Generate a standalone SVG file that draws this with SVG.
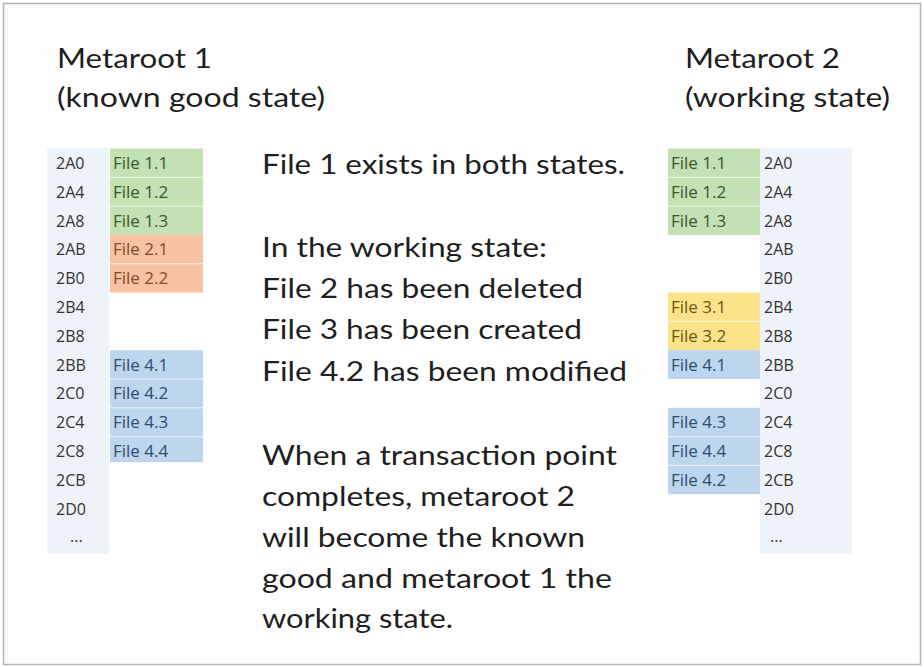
<svg xmlns="http://www.w3.org/2000/svg" width="924" height="667" viewBox="0 0 924 667">
<style>
.big{font-family:Lato,"Open Sans","Liberation Sans",sans-serif;font-size:27px;fill:#1e1e1e;}
.lbl{font-family:"Open Sans","Liberation Sans",sans-serif;font-size:16px;fill:#333;}
.cell{font-family:"Open Sans","Liberation Sans",sans-serif;font-size:17px;}
.g{fill:#c3e1b3;} .gt{fill:#3a5829;}
.o{fill:#f6c2a2;} .ot{fill:#86492a;}
.b{fill:#bdd6ee;} .bt{fill:#2f4c6c;}
.y{fill:#fce38a;} .yt{fill:#6a5610;}
.sep{stroke:#ffffff;stroke-width:1;opacity:0.7;}
.col{fill:#eef3f9;}
</style>
<rect x="0" y="0" width="924" height="667" fill="#ffffff"/>
<rect x="3.5" y="3.5" width="917" height="661" fill="#fefefe" stroke="#b4b4b4" stroke-width="1.5"/>

<g id="metaroot1">
  <text class="big" x="57" y="68" textLength="155" lengthAdjust="spacingAndGlyphs">Metaroot 1</text>
  <text class="big" x="57" y="107" textLength="268" lengthAdjust="spacingAndGlyphs">(known good state)</text>
  <rect class="col" x="47" y="148" width="62" height="406"/>
  <rect class="g" x="110" y="148.6" width="93" height="86.4"/>
  <rect class="o" x="110" y="235" width="93" height="57.6"/>
  <rect class="b" x="110" y="350.2" width="93" height="112"/>
  <line class="sep" x1="110" y1="177.4" x2="203" y2="177.4"/>
  <line class="sep" x1="110" y1="206.2" x2="203" y2="206.2"/>
  <line class="sep" x1="110" y1="263.8" x2="203" y2="263.8"/>
  <line class="sep" x1="110" y1="379" x2="203" y2="379"/>
  <line class="sep" x1="110" y1="407.8" x2="203" y2="407.8"/>
  <line class="sep" x1="110" y1="436.6" x2="203" y2="436.6"/>
  <g class="lbl">
    <text x="56" y="169">2A0</text>
    <text x="56" y="198">2A4</text>
    <text x="56" y="227">2A8</text>
    <text x="56" y="255">2AB</text>
    <text x="56" y="284">2B0</text>
    <text x="56" y="313">2B4</text>
    <text x="56" y="342">2B8</text>
    <text x="56" y="371">2BB</text>
    <text x="56" y="399">2C0</text>
    <text x="56" y="428">2C4</text>
    <text x="56" y="457">2C8</text>
    <text x="56" y="486">2CB</text>
    <text x="56" y="515">2D0</text>
    <text x="70" y="542">...</text>
  </g>
  <g class="cell">
    <text class="gt" x="113" y="169">File 1.1</text>
    <text class="gt" x="113" y="198">File 1.2</text>
    <text class="gt" x="113" y="227">File 1.3</text>
    <text class="ot" x="113" y="255">File 2.1</text>
    <text class="ot" x="113" y="284">File 2.2</text>
    <text class="bt" x="113" y="371">File 4.1</text>
    <text class="bt" x="113" y="399">File 4.2</text>
    <text class="bt" x="113" y="428">File 4.3</text>
    <text class="bt" x="113" y="457">File 4.4</text>
  </g>
</g>

<g id="explanation">
  <text class="big" x="262" y="174" textLength="363" lengthAdjust="spacingAndGlyphs">File 1 exists in both states.</text>
  <text class="big" x="262" y="257" textLength="285" lengthAdjust="spacingAndGlyphs">In the working state:</text>
  <text class="big" x="262" y="298" textLength="321" lengthAdjust="spacingAndGlyphs">File 2 has been deleted</text>
  <text class="big" x="262" y="339" textLength="320" lengthAdjust="spacingAndGlyphs">File 3 has been created</text>
  <text class="big" x="262" y="381" textLength="365" lengthAdjust="spacingAndGlyphs">File 4.2 has been modified</text>
  <text class="big" x="262" y="465" textLength="355" lengthAdjust="spacingAndGlyphs">When a transaction point</text>
  <text class="big" x="262" y="506" textLength="313" lengthAdjust="spacingAndGlyphs">completes, metaroot 2</text>
  <text class="big" x="262" y="547" textLength="323" lengthAdjust="spacingAndGlyphs">will become the known</text>
  <text class="big" x="262" y="588" textLength="350" lengthAdjust="spacingAndGlyphs">good and metaroot 1 the</text>
  <text class="big" x="262" y="628" textLength="191" lengthAdjust="spacingAndGlyphs">working state.</text>
</g>

<g id="metaroot2">
  <text class="big" x="685" y="68" textLength="155" lengthAdjust="spacingAndGlyphs">Metaroot 2</text>
  <text class="big" x="685" y="107" textLength="205" lengthAdjust="spacingAndGlyphs">(working state)</text>
  <rect class="col" x="760" y="148" width="92" height="406"/>
  <rect class="g" x="668" y="148.6" width="92" height="86.4"/>
  <rect class="y" x="668" y="292.6" width="92" height="57.6"/>
  <rect class="b" x="668" y="350.2" width="92" height="28.8"/>
  <rect class="b" x="668" y="407.8" width="92" height="86.4"/>
  <line class="sep" x1="668" y1="177.4" x2="760" y2="177.4"/>
  <line class="sep" x1="668" y1="206.2" x2="760" y2="206.2"/>
  <line class="sep" x1="668" y1="321.4" x2="760" y2="321.4"/>
  <line class="sep" x1="668" y1="436.6" x2="760" y2="436.6"/>
  <line class="sep" x1="668" y1="465.4" x2="760" y2="465.4"/>
  <g class="lbl">
    <text x="764" y="169">2A0</text>
    <text x="764" y="198">2A4</text>
    <text x="764" y="227">2A8</text>
    <text x="764" y="255">2AB</text>
    <text x="764" y="284">2B0</text>
    <text x="764" y="313">2B4</text>
    <text x="764" y="342">2B8</text>
    <text x="764" y="371">2BB</text>
    <text x="764" y="399">2C0</text>
    <text x="764" y="428">2C4</text>
    <text x="764" y="457">2C8</text>
    <text x="764" y="486">2CB</text>
    <text x="764" y="515">2D0</text>
    <text x="770" y="542">...</text>
  </g>
  <g class="cell">
    <text class="gt" x="671" y="169">File 1.1</text>
    <text class="gt" x="671" y="198">File 1.2</text>
    <text class="gt" x="671" y="227">File 1.3</text>
    <text class="yt" x="671" y="313">File 3.1</text>
    <text class="yt" x="671" y="342">File 3.2</text>
    <text class="bt" x="671" y="371">File 4.1</text>
    <text class="bt" x="671" y="428">File 4.3</text>
    <text class="bt" x="671" y="457">File 4.4</text>
    <text class="bt" x="671" y="486">File 4.2</text>
  </g>
</g>
</svg>
